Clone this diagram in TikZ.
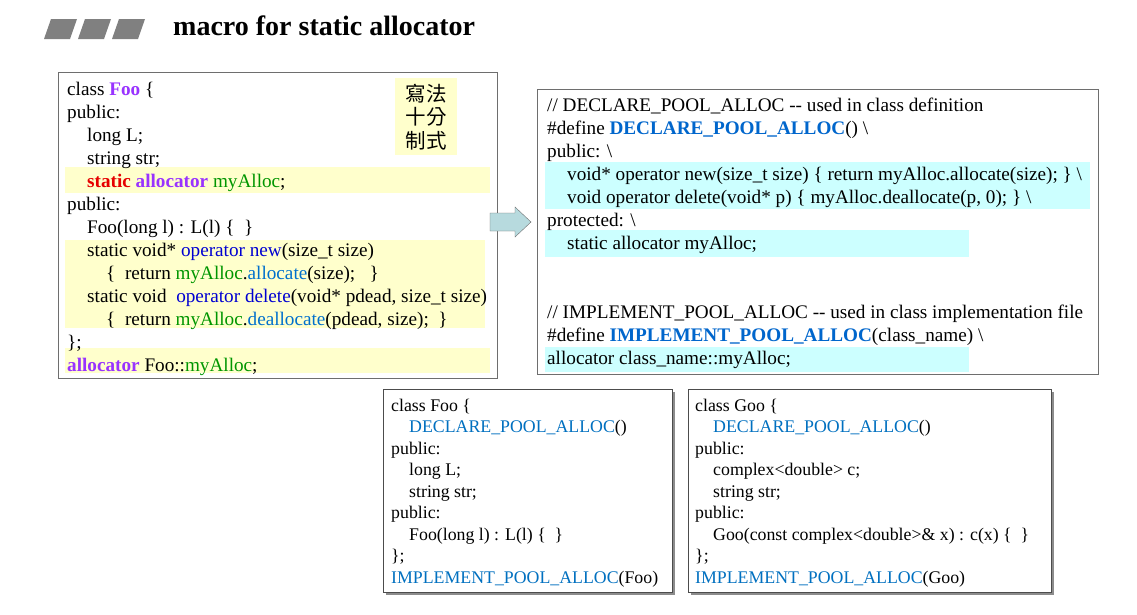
\documentclass[tikz,border=0pt]{standalone}
\usepackage{fontspec}
\setmainfont{Liberation Serif}
\newfontfamily\cjkfont{Noto Sans CJK TC}
\usepackage{xcolor}
\usetikzlibrary{shadows}

\definecolor{clsviolet}{RGB}{153,51,255}
\definecolor{kwred}{RGB}{230,0,0}
\definecolor{memgreen}{RGB}{0,150,0}
\definecolor{opblue}{RGB}{0,0,210}
\definecolor{fnblue}{RGB}{0,112,204}
\definecolor{macroblue}{RGB}{0,102,204}
\definecolor{macrolight}{RGB}{0,112,192}
\definecolor{hlyellow}{RGB}{255,255,204}
\definecolor{hlcyan}{RGB}{204,255,255}
\definecolor{arrowfill}{RGB}{183,218,222}
\definecolor{boxgray}{RGB}{110,110,110}

\newcommand{\hlclass}[1]{\textcolor{clsviolet}{#1}}
\newcommand{\hlmem}[1]{\textcolor{memgreen}{#1}}
\newcommand{\hlop}[1]{\textcolor{opblue}{#1}}
\newcommand{\hlcall}[1]{\textcolor{fnblue}{#1}}
\newcommand{\ind}{\hspace*{20pt}}
\newcommand{\indd}{\hspace*{39pt}}
\newcommand{\bs}{\textbackslash}

\tikzset{
  codebox/.style={draw=boxgray,line width=1pt,anchor=north west,inner sep=0pt},
  shadowbox/.style={draw=black!70,fill=white,line width=1pt,anchor=north west,inner sep=0pt,
    drop shadow={shadow xshift=2.5pt,shadow yshift=-2.5pt,fill=black!45,opacity=1}},
  codetext/.style={anchor=base west,inner sep=0pt,font=\fontsize{19.2}{23}\selectfont},
  smalltext/.style={anchor=base west,inner sep=0pt,font=\fontsize{17.8}{21.5}\selectfont},
  mark yellow/.style={fill=hlyellow},
  mark cyan/.style={fill=hlcyan}
}

\begin{document}
\begin{tikzpicture}[x=1pt,y=-1pt]
\useasboundingbox[fill=white] (0,0) rectangle (1137,614);

% title
\foreach \i in {0,1,2}
  \fill[gray] ({44+34*\i},39) -- ({51+34*\i},19) -- ({77+34*\i},19) -- ({70+34*\i},39) -- cycle;
\node[anchor=base west,inner sep=0pt,font=\fontsize{28}{32}\selectfont\bfseries] (title) at (173,35) {macro for static allocator};

% left box
\node[codebox,minimum width=439pt,minimum height=306pt] (leftbox) at (58,72) {};
\fill[mark yellow] (65,167) rectangle (490,193);
\fill[mark yellow] (65,240) rectangle (485,328);
\fill[mark yellow] (65,348) rectangle (490,373);
\node[fill=hlyellow,anchor=north west,minimum width=62pt,minimum height=77pt] (note) at (395,78) {};
\node[font=\cjkfont\fontsize{20.5}{23.5}\selectfont,align=left,inner sep=0pt] (notetext) at (note.center) {寫法\\十分\\制式};
\node[codetext] (leftcode) at (67,95) {
  \begin{tabular}[t]{@{}l@{}}
  class \hlclass{\textbf{Foo}} \{ \\
  public: \\
  \ind long L; \\
  \ind string str; \\
  \ind\textbf{\textcolor{kwred}{static} \hlclass{allocator}} \hlmem{myAlloc}; \\
  public: \\
  \ind Foo(long l) : L(l) \{ \ \} \\
  \ind static void* \hlop{operator new}(size\_t size) \\
  \indd\{ \ return \hlmem{myAlloc}.\hlcall{allocate}(size); \ \ \} \\
  \ind static void \ \hlop{operator delete}(void* pdead, size\_t size) \\
  \indd\{ \ return \hlmem{myAlloc}.\hlcall{deallocate}(pdead, size); \ \} \\
  \}; \\
  \textbf{\hlclass{allocator}} Foo::\hlmem{myAlloc};
  \end{tabular}};

% right box
\node[codebox,minimum width=561pt,minimum height=285pt] (rightbox) at (537,89) {};
\fill[mark cyan] (545,162) rectangle (1090,209);
\fill[mark cyan] (545,230) rectangle (969,257);
\fill[mark cyan] (545,347) rectangle (969,372);
\node[codetext] (rightcode) at (547,111) {
  \begin{tabular}[t]{@{}l@{}}
  // DECLARE\_POOL\_ALLOC -{}- used in class definition \\
  \#define \textbf{\textcolor{macroblue}{DECLARE\_POOL\_ALLOC}}() \bs \\
  public: \bs \\
  \ind void* operator new(size\_t size) \{ return myAlloc.allocate(size); \} \bs \\
  \ind void operator delete(void* p) \{ myAlloc.deallocate(p, 0); \} \bs \\
  protected: \bs \\
  \ind static allocator myAlloc; \\
  \\
  \\
  // IMPLEMENT\_POOL\_ALLOC -{}- used in class implementation file \\
  \#define \textbf{\textcolor{macroblue}{IMPLEMENT\_POOL\_ALLOC}}(class\_name) \bs \\
  allocator class\_name::myAlloc;
  \end{tabular}};

% block arrow from left box to right box
\draw[boxgray,fill=arrowfill] (490,213) -- (515,213) -- (515,207) -- (531,222)
  -- (515,237) -- (515,231) -- (490,231) -- cycle;

% usage boxes
\node[shadowbox,minimum width=289pt,minimum height=203pt] (foobox) at (383,389) {};
\node[smalltext] (foocode) at (391,411) {
  \begin{tabular}[t]{@{}l@{}}
  class Foo \{ \\
  \hspace*{18pt}\textcolor{macrolight}{DECLARE\_POOL\_ALLOC}() \\
  public: \\
  \hspace*{18pt}long L; \\
  \hspace*{18pt}string str; \\
  public: \\
  \hspace*{18pt}Foo(long l) : L(l) \{ \ \} \\
  \}; \\
  \textcolor{macrolight}{IMPLEMENT\_POOL\_ALLOC}(Foo)
  \end{tabular}};

\node[shadowbox,minimum width=363pt,minimum height=203pt] (goobox) at (688,389) {};
\node[smalltext] (goocode) at (695,411) {
  \begin{tabular}[t]{@{}l@{}}
  class Goo \{ \\
  \hspace*{18pt}\textcolor{macrolight}{DECLARE\_POOL\_ALLOC}() \\
  public: \\
  \hspace*{18pt}complex\textless double\textgreater\ c; \\
  \hspace*{18pt}string str; \\
  public: \\
  \hspace*{18pt}Goo(const complex\textless double\textgreater\& x) : c(x) \{ \ \} \\
  \}; \\
  \textcolor{macrolight}{IMPLEMENT\_POOL\_ALLOC}(Goo)
  \end{tabular}};
\end{tikzpicture}
\end{document}
